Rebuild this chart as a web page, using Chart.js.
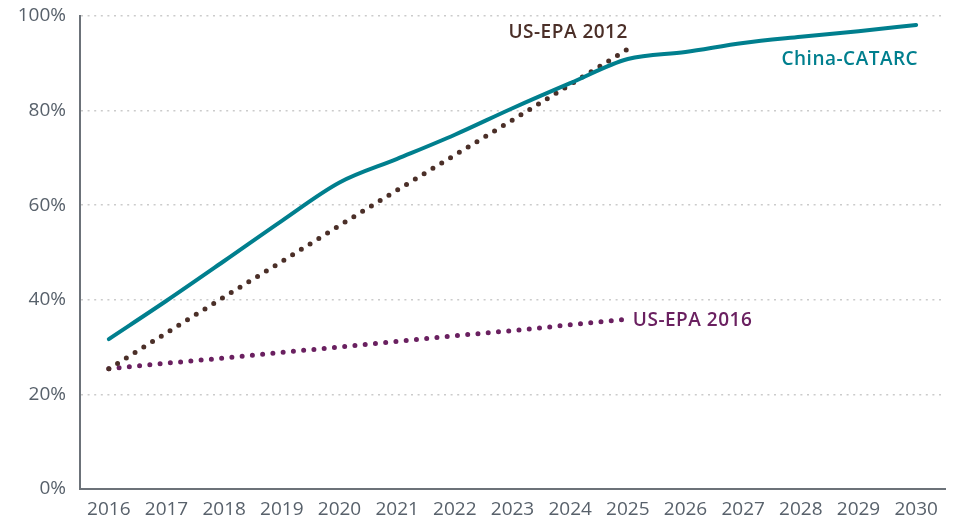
<!DOCTYPE html>
<html>
<head>
<meta charset="utf-8">
<script src="https://cdn.jsdelivr.net/npm/chart.js@4.4.1/dist/chart.umd.min.js"></script>
<style>
    html, body { margin: 0; padding: 0; background: #fff; }
    #wrap { width: 954px; height: 520px; position: relative; }
</style>
</head>
<body>
<div id="wrap"><canvas id="chart"></canvas></div>
<script>
const years = ["2016", "2017", "2018", "2019", "2020", "2021", "2022", "2023",
    "2024", "2025", "2026", "2027", "2028", "2029", "2030"];
const chinaCatarc = [31.7, 39.8, 48.2, 56.7, 64.8, 69.8, 74.9, 80.5, 85.8, 90.9,
    92.4, 94.3, 95.6, 96.8, 98.1];
const usEpa2012 = [25.4, 33.0, 40.6, 48.1, 55.7, 63.2, 70.6, 78.0, 85.5, 93.0];
const usEpa2016 = [25.4, 26.6, 27.7, 28.9, 30.0, 31.2, 32.4, 33.5, 34.7, 35.9];
const yTicks = [0, 20, 40, 60, 80, 100];

const TEAL = "#007f8e";
const BROWN = "#4b2f28";
const PURPLE = "#6a2060";
const AXIS = "#6c7279";
const TICK_TEXT = "#58616b";

// draws the series names next to the end of each line
const seriesLabels = {
    id: "seriesLabels",
    afterDatasetsDraw(chart) {
        const ctx = chart.ctx;
        ctx.save();
        ctx.font = "600 19px 'Open Sans'";
        ctx.letterSpacing = "0.5px";
        ctx.textBaseline = "middle";
        chart.data.datasets.forEach(function (ds, i) {
            const pts = chart.getDatasetMeta(i).data;
            const last = pts[pts.length - 1];
            ctx.fillStyle = ds.borderColor;
            if (ds.label === "China-CATARC") {
                ctx.textAlign = "right";
                ctx.fillText(ds.label, last.x + 2, last.y + 35);
            } else if (ds.label === "US-EPA 2012") {
                ctx.textAlign = "right";
                ctx.fillText(ds.label, last.x, last.y - 17);
            } else {
                ctx.textAlign = "left";
                ctx.fillText(ds.label, last.x + 5, last.y + 1);
            }
        });
        ctx.restore();
    }
};

new Chart(document.getElementById("chart"), {
    type: "line",
    data: {
        labels: years,
        datasets: [
            {
                label: "China-CATARC",
                data: chinaCatarc,
                borderColor: TEAL,
                borderWidth: 4,
                cubicInterpolationMode: "monotone",
                pointRadius: 0,
                borderCapStyle: "round"
            },
            {
                label: "US-EPA 2012",
                data: usEpa2012,
                borderColor: BROWN,
                borderWidth: 5,
                borderDash: [0, 10.3],
                borderCapStyle: "round",
                tension: 0,
                pointRadius: 0
            },
            {
                label: "US-EPA 2016",
                data: usEpa2016,
                borderColor: PURPLE,
                borderWidth: 5,
                borderDash: [0, 10.3],
                borderCapStyle: "round",
                tension: 0,
                pointRadius: 0
            }
        ]
    },
    options: {
        responsive: true,
        maintainAspectRatio: false,
        animation: false,
        layout: { padding: { top: 16, right: 9, bottom: 0, left: 0 } },
        plugins: {
            legend: { display: false },
            tooltip: { enabled: false }
        },
        scales: {
            x: {
                offset: true,
                grid: { display: false, drawTicks: false },
                border: { display: true, color: AXIS, width: 2 },
                ticks: {
                    padding: 9,
                    color: TICK_TEXT,
                    font: { family: "'Open Sans'", size: 19 },
                    maxRotation: 0,
                    autoSkip: false
                },
                afterFit: function (scale) { scale.height = 31; }
            },
            y: {
                min: 0,
                max: 100,
                afterBuildTicks: function (scale) {
                    scale.ticks = yTicks.map(function (v) { return { value: v }; });
                },
                grid: {
                    drawTicks: false,
                    color: function (c) { return c.tick && c.tick.value === 0 ? "rgba(0,0,0,0)" : "#cbcbcb"; },
                    lineWidth: 1.5
                },
                border: { display: true, color: AXIS, width: 2, dash: [2, 4.6] },
                ticks: {
                    padding: 14,
                    color: TICK_TEXT,
                    font: { family: "'Open Sans'", size: 19 },
                    callback: function (v) { return v + "%"; }
                },
                afterFit: function (scale) {
                    scale.width = 80;
                    scale.paddingTop = 0;
                    scale.paddingBottom = 0;
                }
            }
        }
    },
    plugins: [seriesLabels]
});
</script>
</body>
</html>
